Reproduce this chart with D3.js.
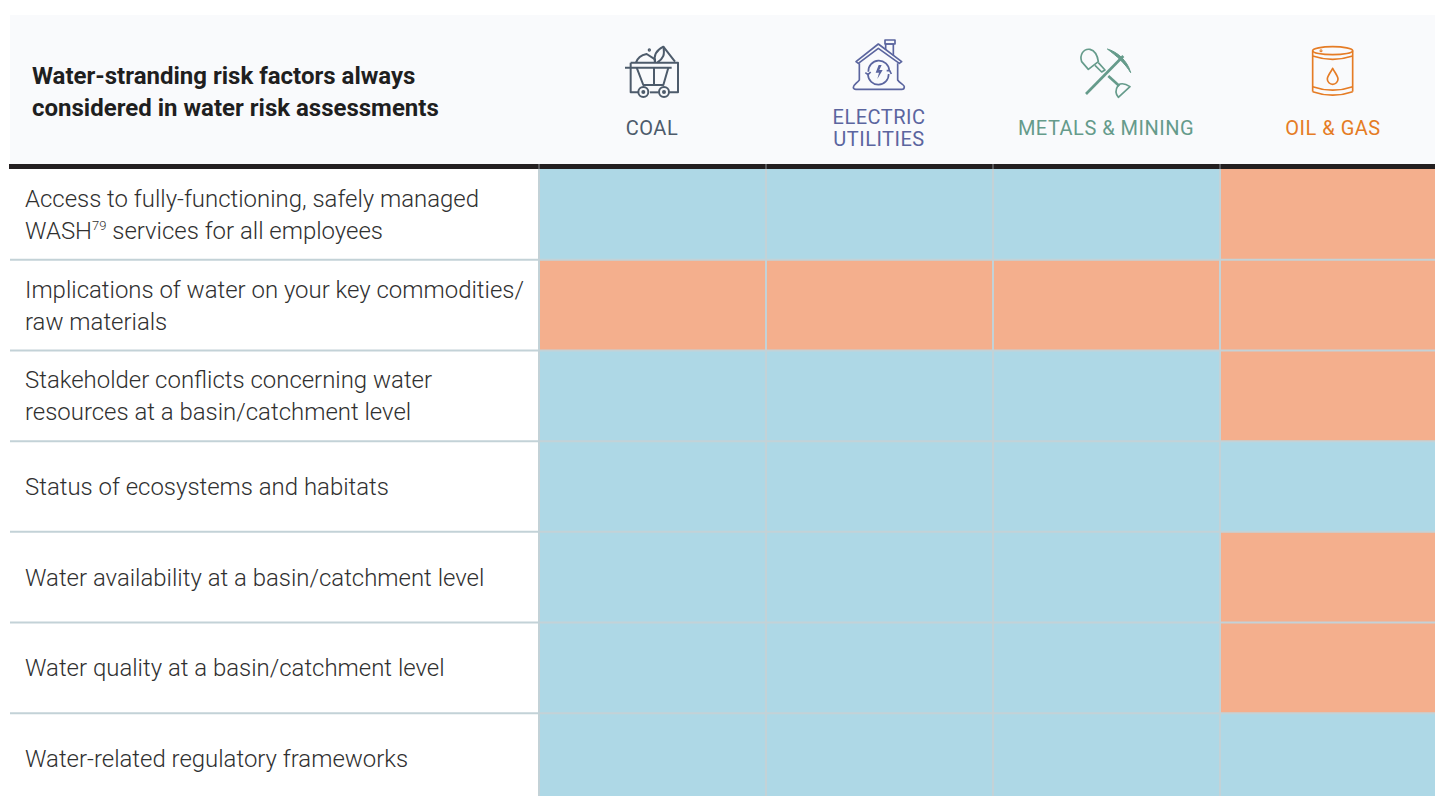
<!DOCTYPE html>
<html>
<head>
<meta charset="utf-8">
<script src="https://d3js.org/d3.v7.min.js"></script>
<style>
  html, body { margin: 0; padding: 0; background: #fff; overflow: hidden; }
  text { font-family: Roboto, sans-serif; }
</style>
</head>
<body>
<svg id="chart" width="1435" height="796"></svg>
<script>
const titleLines = ["Water-stranding risk factors always", "considered in water risk assessments"];
const sectors = ["COAL", "ELECTRIC UTILITIES", "METALS & MINING", "OIL & GAS"];
const sectorLabels = [["COAL"], ["ELECTRIC", "UTILITIES"], ["METALS & MINING"], ["OIL & GAS"]];
const sectorColors = ["#4d5b6b", "#5b659f", "#659b8b", "#e57c25"];

const factors = [
  ["Access to fully-functioning, safely managed", "WASH|79| services for all employees"],
  ["Implications of water on your key commodities/", "raw materials"],
  ["Stakeholder conflicts concerning water", "resources at a basin/catchment level"],
  ["Status of ecosystems and habitats"],
  ["Water availability at a basin/catchment level"],
  ["Water quality at a basin/catchment level"],
  ["Water-related regulatory frameworks"],
];

// one list per sector, same order as factors. b = blue cell, o = orange cell
const coalCells = ["b", "o", "b", "b", "b", "b", "b"];
const electricCells = ["b", "o", "b", "b", "b", "b", "b"];
const metalsCells = ["b", "o", "b", "b", "b", "b", "b"];
const oilCells = ["o", "o", "o", "b", "o", "o", "b"];
const sectorCells = [coalCells, electricCells, metalsCells, oilCells];

const svg = d3.select("#chart");

const x = d3.scaleBand().domain(sectors).range([539, 1447]);
const y = d3.scaleBand().domain(d3.range(factors.length)).range([169, 804]);
const cellColor = d3.scaleOrdinal().domain(["b", "o"]).range(["#aed8e6", "#f4af8d"]);
const gridColor = "#c3d2d7";

// header
svg.append("rect").attr("x", 10).attr("y", 15).attr("width", 1425).attr("height", 149).attr("fill", "#f9fafc");

svg.append("g").selectAll("text").data(titleLines).join("text")
  .attr("x", 32)
  .attr("y", (d, i) => 84 + i * 32)
  .attr("font-size", 24)
  .attr("font-weight", 700)
  .attr("fill", "#1f1f1f")
  .text((d) => d);

// cells
const cells = sectors.flatMap((s, i) => factors.map((f, r) => ({ sector: s, row: r, value: sectorCells[i][r] })));

svg.append("g").selectAll("rect").data(cells).join("rect")
  .attr("x", (d) => x(d.sector))
  .attr("y", (d) => y(d.row))
  .attr("width", x.bandwidth())
  .attr("height", y.bandwidth())
  .attr("fill", (d) => cellColor(d.value));

// grid
svg.append("g").selectAll("line").data(d3.range(1, factors.length)).join("line")
  .attr("x1", 10).attr("x2", 1435)
  .attr("y1", (d) => y(d)).attr("y2", (d) => y(d))
  .attr("stroke", gridColor).attr("stroke-width", 2);

svg.append("g").selectAll("line").data(sectors).join("line")
  .attr("x1", (d) => x(d)).attr("x2", (d) => x(d))
  .attr("y1", 164).attr("y2", 796)
  .attr("stroke", gridColor).attr("stroke-width", 2);

// heavy rule under the header
svg.append("rect").attr("x", 9).attr("y", 164).attr("width", 1426).attr("height", 5).attr("fill", "#231f20");
svg.append("g").selectAll("line").data(sectors).join("line")
  .attr("x1", (d) => x(d)).attr("x2", (d) => x(d))
  .attr("y1", 164).attr("y2", 169)
  .attr("stroke", "#8a8d90").attr("stroke-width", 1);

// row labels
const rowLabels = svg.append("g").selectAll("text")
  .data(factors.flatMap((lines, r) => lines.map((line, i) => ({ line, r, i, n: lines.length }))))
  .join("text")
  .attr("x", 25)
  .attr("y", (d) => y(d.r) + y.bandwidth() / 2 + 8.5 + (d.i - (d.n - 1) / 2) * 32)
  .attr("font-size", 23.95)
  .attr("font-weight", 300)
  .attr("fill", "#303030");

rowLabels.each(function (d) {
  const parts = d.line.split("|");
  const t = d3.select(this);
  parts.forEach((p, k) => {
    const sp = t.append("tspan").text(p);
    if (k === 1) sp.attr("font-size", 13).attr("dy", -9);
    if (k === 2) sp.attr("dy", 9);
  });
});

// column labels
svg.append("g").selectAll("text")
  .data(sectors.flatMap((s, i) => sectorLabels[i].map((line, k) => ({ s, i, k, line, n: sectorLabels[i].length }))))
  .join("text")
  .attr("x", (d) => x(d.s) + x.bandwidth() / 2 - 0.5)
  .attr("y", (d) => (d.n === 1 ? 135 : 124 + d.k * 22))
  .attr("text-anchor", "middle")
  .attr("font-size", 20)
  .attr("letter-spacing", 0.5)
  .attr("fill", (d) => sectorColors[d.i])
  .text((d) => d.line);

// icons, paths traced at 3x
function icon(tx, ty, color) {
  return svg.append("g")
    .attr("transform", `translate(${tx},${ty}) scale(${1 / 3})`)
    .attr("fill", "none")
    .attr("stroke", color)
    .attr("stroke-width", 6)
    .attr("stroke-linejoin", "round");
}

const coal = icon(600, 30, sectorColors[0]);
[
  "M92 98H234V187H208",
  "M92 98V187H115",
  "M150 187H175",
  "M75 113H215",
  "M110 113L130 165H190L205 113",
  "M162 113V165",
  "M108 98C112 85 125 75 140 72L165 88V98",
  "M165 98C160 75 170 60 190 50L225 95",
  "M190 50C195 75 190 85 172 98",
].forEach((d) => coal.append("path").attr("d", d));
[[130, 186], [192, 186]].forEach(([cx, cy]) => {
  coal.append("circle").attr("cx", cx).attr("cy", cy).attr("r", 15);
  coal.append("circle").attr("cx", cx).attr("cy", cy).attr("r", 3);
});
coal.append("circle").attr("cx", 148).attr("cy", 60).attr("r", 2);

const house = icon(600, 30, sectorColors[1]);
[
  "M768 95L835 42L905 95L898 100L835 55L775 100Z",
  "M857 60V42H880V76",
  "M855 30H885V42H855Z",
  "M778 100V150C770 160 760 165 760 172Q760 178 768 178H905Q913 178 913 170C913 165 900 160 893 150V100",
  "M805 125A30 30 0 0 1 868 122",
  "M860 122L869 122L874 132",
  "M866 132A30 30 0 0 1 804 134",
  "M796 128L804 134L812 126",
].forEach((d) => house.append("path").attr("d", d).attr("stroke-width", 5));
house.append("path").attr("d", "M836 105L827 128H837L832 147L848 120H838L845 105Z").attr("fill", sectorColors[1]).attr("stroke", "none");

const mine = icon(1000, 30, sectorColors[2]);
mine.append("path").attr("d", "M258 192L370 78").attr("stroke-width", 8);
mine.append("path").attr("d", "M322 57C350 65 382 90 392 128C375 100 350 78 322 57Z").attr("fill", sectorColors[2]).attr("stroke-width", 3);
[
  "M270 58C250 55 238 75 245 95L265 118L295 95C293 80 285 62 270 58Z",
  "M295 98L315 120L305 126L285 106",
  "M355 165C345 180 345 190 355 202L390 170C375 160 365 158 355 165Z",
].forEach((d) => mine.append("path").attr("d", d).attr("stroke-width", 5));
mine.append("path").attr("d", "M325 138L358 168").attr("stroke-width", 8);

const barrel = icon(1000, 30, sectorColors[3]);
[
  "M938 62V185",
  "M1058 62V185",
  "M938 185Q998 206 1058 185",
  "M938 170Q998 191 1058 170",
  "M938 78Q998 98 1058 78",
  "M998 115C990 130 982 138 982 147A16 16 0 0 0 1014 147C1014 138 1006 130 998 115Z",
].forEach((d) => barrel.append("path").attr("d", d).attr("stroke-width", 5));
barrel.append("ellipse").attr("cx", 998).attr("cy", 62).attr("rx", 60).attr("ry", 12).attr("stroke-width", 5);
barrel.append("circle").attr("cx", 963).attr("cy", 62).attr("r", 1.5);
</script>
</body>
</html>
